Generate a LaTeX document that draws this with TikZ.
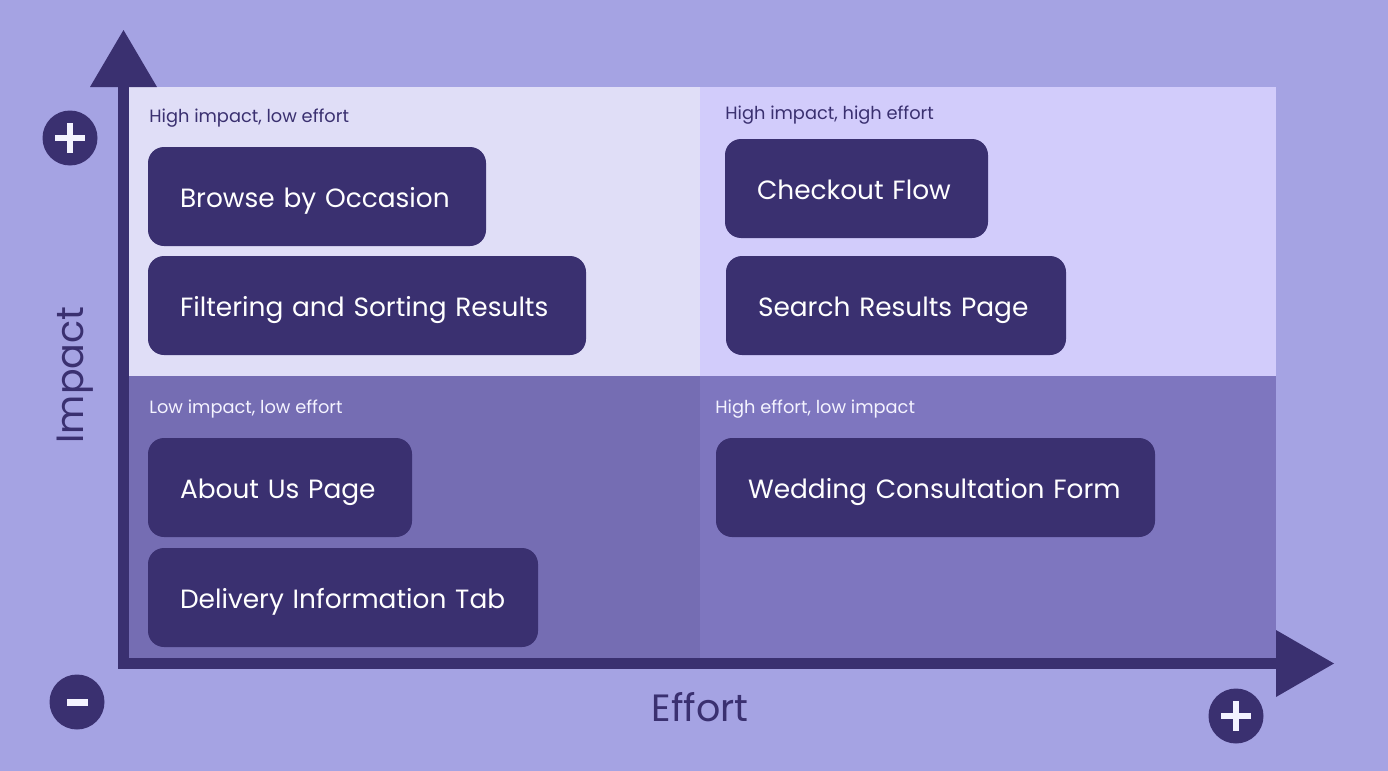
\documentclass[tikz,border=0pt]{standalone}
\usepackage{fontspec}
\setmainfont{Poppins}
\usetikzlibrary{positioning}
\definecolor{matrixBg}{HTML}{A5A3E3}
\definecolor{quadHL}{HTML}{E0DEF7}
\definecolor{quadHH}{HTML}{D2CCFB}
\definecolor{quadLL}{HTML}{756DB3}
\definecolor{quadLH}{HTML}{7E76BF}
\definecolor{inkPurple}{HTML}{3A3070}
\definecolor{paleText}{HTML}{F4F3FF}

\begin{document}
\begin{tikzpicture}[x=0.5pt,y=-0.5pt,
  quad/.style={anchor=north west,inner sep=0pt,outer sep=0pt},
  item/.style={fill=inkPurple,rounded corners=8pt,anchor=north west,minimum height=49.5pt,
    inner xsep=16pt,inner ysep=0pt,outer sep=0pt,align=left,text=white,text width=#1,
    text height=11pt,text depth=0pt,font=\fontsize{13.2}{16}\selectfont},
  tag/.style={anchor=west,inner sep=0pt,font=\fontsize{8.9}{10}\selectfont},
  sign/.style={circle,fill=inkPurple,minimum size=27.5pt,inner sep=0pt},
  axisname/.style={text=inkPurple,inner sep=0pt,font=\fontsize{19}{22}\selectfont}]

  \fill[matrixBg] (0,0) rectangle (1388,771);
  \useasboundingbox (0,0) rectangle (1388,771);

  % quadrants
  \node[quad,fill=quadHL,minimum width=285.5pt,minimum height=144.5pt] (hilo) at (129,87) {};
  \node[quad,fill=quadHH,minimum width=288pt,minimum height=144.5pt] (hihi) at (700,87) {};
  \node[quad,fill=quadLL,minimum width=285.5pt,minimum height=141pt] (lolo) at (129,376) {};
  \node[quad,fill=quadLH,minimum width=288pt,minimum height=141pt] (lohi) at (700,376) {};

  % axes
  \fill[inkPurple] (118,87) rectangle (129,669);
  \fill[inkPurple] (118,658) rectangle (1276,669);
  \fill[inkPurple] (90,87) -- (123.5,30) -- (157,87) -- cycle;
  \fill[inkPurple] (1276,630) -- (1334,663.5) -- (1276,697) -- cycle;

  \node[tag,text=inkPurple] (taghilo) at (149,118) {High impact, low effort};
  \node[tag,text=inkPurple] (taghihi) at (725,115) {High impact, high effort};
  \node[tag,text=paleText] (taglolo) at (149,409) {Low impact, low effort};
  \node[tag,text=paleText] (taglohi) at (715,409) {High effort, low impact};

  \node[item=137pt] (browse) at (148,147) {\mbox{Browse by Occasion}};
  \node[item=187pt] (filter) at (148,256) {\mbox{Filtering and Sorting Results}};
  \node[item=99.5pt] (checkout) at (725,139) {\mbox{Checkout Flow}};
  \node[item=138pt] (search) at (726,256) {\mbox{Search Results Page}};
  \node[item=100pt] (about) at (148,438) {\mbox{About Us Page}};
  \node[item=163pt] (delivery) at (148,548) {\mbox{Delivery Information Tab}};
  \node[item=187.5pt] (wedding) at (716,438) {\mbox{Wedding Consultation Form}};

  \node[axisname,rotate=90] (impact) at (75,375) {Impact};
  \node[axisname] (effort) at (700,707) {Effort};

  % plus and minus marks
  \node[sign] (plusimpact) at (70,138) {};
  \fill[paleText] ([xshift=-7.5pt,yshift=-1.5pt]plusimpact.center) rectangle ([xshift=7.5pt,yshift=1.5pt]plusimpact.center);
  \fill[paleText] ([xshift=-1.5pt,yshift=-7.5pt]plusimpact.center) rectangle ([xshift=1.5pt,yshift=7.5pt]plusimpact.center);
  \node[sign] (minusorigin) at (77,702) {};
  \fill[paleText] ([xshift=-5.25pt,yshift=-1.75pt]minusorigin.center) rectangle ([xshift=5.25pt,yshift=1.75pt]minusorigin.center);
  \node[sign] (pluseffort) at (1236,716) {};
  \fill[paleText] ([xshift=-7.5pt,yshift=-1.5pt]pluseffort.center) rectangle ([xshift=7.5pt,yshift=1.5pt]pluseffort.center);
  \fill[paleText] ([xshift=-1.5pt,yshift=-7.5pt]pluseffort.center) rectangle ([xshift=1.5pt,yshift=7.5pt]pluseffort.center);
\end{tikzpicture}
\end{document}
